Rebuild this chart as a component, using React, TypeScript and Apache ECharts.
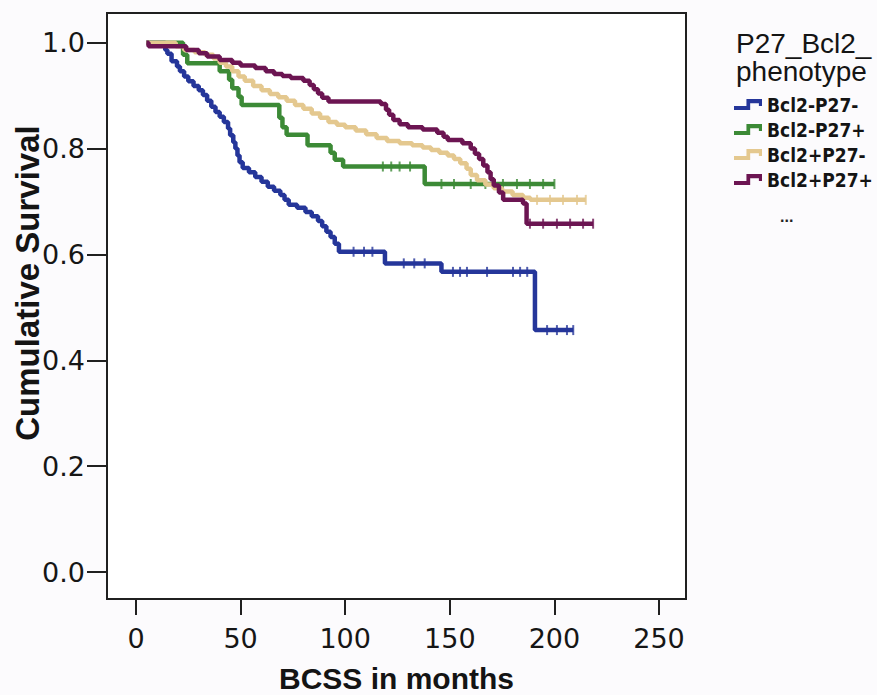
import React, { useEffect, useRef } from "react";
import * as echarts from "echarts";

// ---- data ----
const xTicks = [0, 50, 100, 150, 200, 250];
const yTicks = [0, 0.2, 0.4, 0.6, 0.8, 1.0];
const groupNames = ["Bcl2-P27-", "Bcl2-P27+", "Bcl2+P27-", "Bcl2+P27+"];

// Bcl2-P27-
const blueT = [5, 14, 15, 17, 19.6, 21, 23, 25, 27.5, 30, 32, 34, 36, 38, 40, 42, 44, 45, 46.5, 47.5, 48.5, 49.5, 51, 54, 57, 60, 63, 66, 69, 71, 73, 77, 81, 84, 87, 89, 91, 93, 95, 97, 119, 146, 190.7, 209];
const blueS = [1.0, 0.986, 0.979, 0.965, 0.955, 0.946, 0.936, 0.927, 0.918, 0.91, 0.901, 0.89, 0.879, 0.869, 0.86, 0.85, 0.838, 0.825, 0.812, 0.8, 0.787, 0.774, 0.763, 0.755, 0.746, 0.737, 0.728, 0.72, 0.712, 0.703, 0.694, 0.688, 0.68, 0.672, 0.663, 0.653, 0.643, 0.633, 0.62, 0.605, 0.583, 0.567, 0.457, 0.457];
const blueCensor = [104, 109, 113, 128, 133, 138, 151.5, 154.9, 158.2, 167.8, 180.2, 183.6, 187, 196.5, 201.2, 206, 209];

// Bcl2-P27+
const greenT = [5, 22.5, 24.5, 40, 44.5, 46, 49, 50.5, 68.5, 70, 72, 82, 93, 95, 99, 138, 200];
const greenS = [1.0, 0.977, 0.961, 0.946, 0.93, 0.914, 0.898, 0.882, 0.858, 0.84, 0.826, 0.806, 0.792, 0.779, 0.766, 0.733, 0.733];
const greenCensor = [118, 122, 126, 131, 146, 152, 160, 167, 175.4, 182.1, 188.3, 194.6, 200];

// Bcl2+P27-
const tanT = [5, 19, 23, 28, 33, 37, 40, 43, 46, 49, 52, 56, 60, 64, 68, 72, 76, 80, 84, 88, 92, 96, 100, 105, 110, 115, 120, 126, 132, 137, 141, 145, 149, 152, 155, 158, 160, 163, 167, 171, 175, 180, 185, 188.5, 215];
const tanS = [1.0, 0.993, 0.986, 0.982, 0.977, 0.97, 0.962, 0.955, 0.946, 0.936, 0.928, 0.918, 0.91, 0.903, 0.897, 0.89, 0.882, 0.875, 0.866, 0.858, 0.85, 0.845, 0.84, 0.834, 0.827, 0.82, 0.814, 0.81, 0.806, 0.802, 0.797, 0.792, 0.787, 0.78, 0.772, 0.762, 0.75, 0.74, 0.732, 0.725, 0.719, 0.712, 0.707, 0.703, 0.703];
const tanCensor = [191.7, 197.9, 204.1, 210.8, 215];

// Bcl2+P27+
const purpleT = [5, 6, 24, 30, 34, 40, 46, 50, 57, 62, 66, 70, 74, 80, 83, 85, 87, 89, 92, 117, 119.5, 121, 123, 126, 130, 137, 144, 147, 149, 156, 160, 162, 164, 166, 168, 169.5, 171, 173.5, 175.5, 185, 186.7, 218.5];
const purpleS = [1.0, 0.993, 0.986, 0.98, 0.974, 0.967, 0.962, 0.957, 0.952, 0.946, 0.941, 0.937, 0.933, 0.928, 0.92, 0.912, 0.904, 0.896, 0.889, 0.884, 0.873, 0.864, 0.854, 0.846, 0.84, 0.836, 0.83, 0.822, 0.816, 0.81, 0.8, 0.79, 0.78, 0.768, 0.755, 0.742, 0.73, 0.717, 0.703, 0.696, 0.658, 0.658];
const purpleCensor = [188.3, 194.6, 201.2, 207.5, 213.7, 218.5];

const groups = [
  { name: groupNames[0], t: blueT, s: blueS, c: blueCensor },
  { name: groupNames[1], t: greenT, s: greenS, c: greenCensor },
  { name: groupNames[2], t: tanT, s: tanS, c: tanCensor },
  { name: groupNames[3], t: purpleT, s: purpleS, c: purpleCensor },
];

const colors = ["#25369a", "#3c8a36", "#e4c88f", "#6c1552"];

function survivalAt(t: number[], s: number[], x: number): number {
  let v = s[0];
  for (let i = 0; i < t.length; i++) {
    if (t[i] <= x + 1e-9) v = s[i];
  }
  return v;
}

const stepIcon =
  "path://M0,6 L12,6 L12,0 L27,0 L27,6 L24,6 L24,3.6 L15.6,3.6 L15.6,9.6 L0,9.6 Z";

export default function App() {
  const ref = useRef<HTMLDivElement>(null);

  useEffect(() => {
    const chart = echarts.init(ref.current!, null, { renderer: "svg" });

    const lineSeries = groups.map((g, i) => ({
      name: g.name,
      type: "line",
      step: "end",
      showSymbol: false,
      symbol: "none",
      data: g.t.map((x, k) => [x, g.s[k]]),
      lineStyle: { color: colors[i], width: 4.5 },
      itemStyle: { color: colors[i] },
      z: 3 + i,
    }));

    const censorSeries = groups.map((g, i) => ({
      name: g.name + " censored",
      type: "scatter",
      symbol: "rect",
      symbolSize: [2, 10],
      data: g.c.map((x) => [x, survivalAt(g.t, g.s, x)]),
      itemStyle: { color: colors[i] },
      z: 3 + i,
    }));

    const option: any = {
      animation: false,
      backgroundColor: "#fcfbfd",
      title: {
        text: "P27_Bcl2_\nphenotype",
        left: 731,
        top: 24,
        textStyle: {
          fontFamily: "Liberation Sans, Arial, sans-serif",
          fontSize: 28,
          fontWeight: "normal",
          color: "#141414",
          lineHeight: 28,
        },
      },
      legend: {
        orient: "vertical",
        left: 729,
        top: 90,
        itemWidth: 28,
        itemHeight: 11,
        itemGap: 6,
        symbolKeepAspect: false,
        itemStyle: { borderWidth: 0 },
        data: groupNames.map((n) => ({ name: n, icon: stepIcon })),
        textStyle: {
          fontFamily: "Liberation Sans Narrow, DejaVu Sans Condensed, Liberation Sans, sans-serif",
          fontWeight: "bold",
          fontSize: 19,
          lineHeight: 19,
          color: "#141414",
        },
      },
      graphic: [
        {
          type: "text",
          left: 780,
          top: 208,
          style: {
            text: "...",
            font: "bold 16px Liberation Sans, sans-serif",
            fill: "#222",
          },
        },
      ],
      grid: {
        left: 107,
        top: 13,
        width: 579,
        height: 586,
        show: true,
        containLabel: false,
        outerBoundsMode: "none",
        borderColor: "#202020",
        borderWidth: 2,
        backgroundColor: "#ffffff",
      },
      xAxis: {
        type: "value",
        min: -13.86,
        max: 262.9,
        name: "BCSS in months",
        nameLocation: "middle",
        nameGap: 64,
        nameMoveOverlap: false,
        nameTextStyle: {
          fontFamily: "Liberation Sans, Arial, sans-serif",
          fontWeight: "bold",
          fontSize: 30,
          color: "#141414",
        },
        axisLine: { show: false, onZero: false },
        splitLine: { show: false },
        axisTick: {
          show: true,
          length: 16,
          customValues: xTicks,
          lineStyle: { color: "#202020", width: 2 },
        },
        axisLabel: {
          customValues: xTicks,
          margin: 26,
          fontFamily: "DejaVu Sans, sans-serif",
          fontSize: 27,
          color: "#161616",
        },
      },
      yAxis: {
        type: "value",
        min: -0.051,
        max: 1.056,
        name: "Cumulative Survival",
        nameLocation: "middle",
        nameGap: 63,
        nameMoveOverlap: false,
        nameTextStyle: {
          fontFamily: "Liberation Sans, Arial, sans-serif",
          fontWeight: "bold",
          fontSize: 33,
          color: "#141414",
          padding: [0, 0, 0, 46],
        },
        axisLine: { show: false, onZero: false },
        splitLine: { show: false },
        axisTick: {
          show: true,
          length: 20,
          customValues: yTicks,
          lineStyle: { color: "#202020", width: 2 },
        },
        axisLabel: {
          customValues: yTicks,
          margin: 22,
          fontFamily: "DejaVu Sans, sans-serif",
          fontSize: 27,
          color: "#161616",
          formatter: (v: number) => v.toFixed(1),
        },
      },
      series: [...lineSeries, ...censorSeries],
    };

    chart.setOption(option);
    return () => chart.dispose();
  }, []);

  return (
    <div
      ref={ref}
      style={{ position: "fixed", left: 0, top: 0, width: 877, height: 695 }}
    />
  );
}
